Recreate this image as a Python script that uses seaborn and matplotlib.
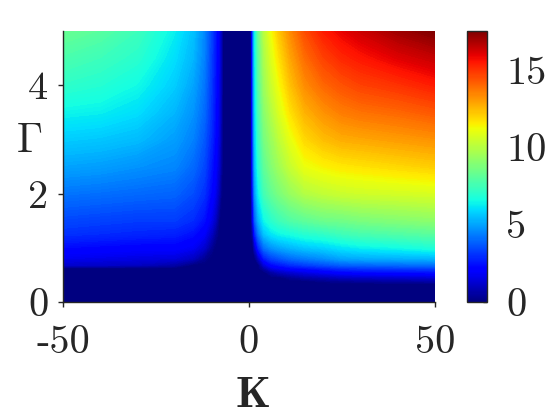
import numpy as np
import pandas as pd
import matplotlib
matplotlib.use("Agg")
import matplotlib.pyplot as plt
import seaborn as sns
from matplotlib.colors import Normalize
from matplotlib.cm import ScalarMappable

K_nodes = [-50, -40, -30, -20, -15, -12, -10, -9, -8, -7.5, -7, 0.5, 1, 1.5,
           2.5, 4, 6, 8, 11, 15, 20, 25, 30, 40, 50]
Gamma_nodes = [0, 0.33, 0.38, 0.45, 0.55, 0.62, 0.68, 0.8, 1.0, 1.25, 1.5,
               2, 2.5, 3, 3.5, 4, 4.5, 5]

# one list per K node, values listed along Gamma_nodes
values_by_K = [
    [0, 0, 0, 0, 0, 0, 1.2, 1.7, 2.3, 3.0, 3.4, 4.2, 5.0, 5.7, 6.4, 7.1, 7.7, 8.3],   # -50
    [0, 0, 0, 0, 0, 0, 1.1, 1.6, 2.2, 2.9, 3.3, 4.1, 4.9, 5.6, 6.3, 6.9, 7.4, 8.0],   # -40
    [0, 0, 0, 0, 0, 0, 1.0, 1.5, 2.1, 2.8, 3.2, 4.0, 4.7, 5.4, 6.0, 6.5, 7.0, 7.4],   # -30
    [0, 0, 0, 0, 0, 0, 0.6, 1.4, 2.1, 2.7, 3.2, 3.9, 4.5, 4.9, 5.3, 5.7, 6.0, 6.3],   # -20
    [0, 0, 0, 0, 0, 0, 0, 1.0, 1.8, 2.4, 2.9, 3.5, 4.0, 4.4, 4.7, 5.0, 5.3, 5.5],     # -15
    [0, 0, 0, 0, 0, 0, 0, 0.3, 1.2, 1.9, 2.4, 3.0, 3.4, 3.7, 4.0, 4.2, 4.4, 4.5],     # -12
    [0, 0, 0, 0, 0, 0, 0, 0, 0.3, 1.0, 1.6, 2.2, 2.5, 2.8, 3.0, 3.1, 3.2, 3.3],       # -10
    [0, 0, 0, 0, 0, 0, 0, 0, 0, 0.4, 1.0, 1.7, 2.0, 2.2, 2.35, 2.45, 2.5, 2.6],       # -9
    [0, 0, 0, 0, 0, 0, 0, 0, 0, 0, 0.1, 0.8, 1.2, 1.4, 1.5, 1.6, 1.65, 1.7],          # -8
    [0, 0, 0, 0, 0, 0, 0, 0, 0, 0, 0, 0.2, 0.5, 0.7, 0.8, 0.9, 0.95, 1.0],            # -7.5
    [0, 0, 0, 0, 0, 0, 0, 0, 0, 0, 0, 0, 0, 0, 0, 0, 0, 0],                           # -7
    [0, 0, 0, 0, 0, 0, 0, 0, 0, 0, 0, 0, 0, 0, 0, 0, 0, 0],                           # 0.5
    [0, 0, 0, 0, 0, 0, 0, 0, 0, 0.6, 1.6, 2.5, 2.9, 3.1, 3.3, 3.4, 3.45, 3.5],        # 1
    [0, 0, 0, 0, 0, 0, 0, 0, 1.0, 2.6, 3.7, 4.7, 5.2, 5.5, 5.7, 5.9, 6.1, 6.2],       # 1.5
    [0, 0, 0, 0, 0, 0, 0, 1.0, 2.8, 4.2, 5.2, 6.3, 6.9, 7.3, 7.6, 7.9, 8.1, 8.3],     # 2.5
    [0, 0, 0, 0, 0, 0.6, 1.3, 2.6, 4.1, 5.5, 6.4, 7.5, 8.1, 8.6, 9.0, 9.4, 9.7, 10.0],  # 4
    [0, 0, 0, 0, 0.6, 1.5, 2.2, 3.3, 4.7, 6.1, 7.0, 8.2, 8.9, 9.4, 9.9, 10.4, 10.8, 11.2],  # 6
    [0, 0, 0, 0, 1.0, 1.8, 2.5, 3.6, 5.0, 6.4, 7.4, 8.7, 9.5, 10.1, 10.7, 11.2, 11.7, 12.2],  # 8
    [0, 0, 0, 0.3, 1.3, 2.2, 2.9, 4.0, 5.3, 6.6, 7.8, 9.3, 10.3, 11.0, 11.7, 12.3, 12.8, 13.3],  # 11
    [0, 0, 0, 0.6, 1.6, 2.4, 3.2, 4.3, 5.6, 6.9, 8.1, 9.9, 11.1, 11.9, 12.6, 13.3, 13.9, 14.5],  # 15
    [0, 0, 0.2, 0.8, 1.9, 2.7, 3.5, 4.6, 5.8, 7.1, 8.4, 10.2, 11.4, 12.4, 13.2, 14.0, 14.7, 15.4],  # 20
    [0, 0, 0.3, 1.0, 2.2, 3.0, 3.8, 5.0, 6.1, 7.4, 8.5, 10.4, 11.6, 12.7, 13.6, 14.4, 15.2, 15.9],  # 25
    [0, 0, 0.4, 1.1, 2.3, 3.1, 3.9, 5.1, 6.3, 7.6, 8.7, 10.5, 11.7, 12.8, 13.8, 14.7, 15.5, 16.3],  # 30
    [0, 0, 0.5, 1.2, 2.4, 3.2, 4.0, 5.2, 6.5, 7.8, 8.9, 10.6, 11.9, 13.0, 14.0, 15.0, 16.0, 17.0],  # 40
    [0, 0, 0.6, 1.3, 2.5, 3.3, 4.1, 5.3, 6.8, 8.0, 9.1, 10.7, 12.1, 13.2, 14.3, 15.4, 16.4, 17.5],  # 50
]

x_ticks = [-50, 0, 50]
x_tick_labels = ["-50", "0", "50"]
y_ticks = [0, 2, 4]
y_tick_labels = ["0", "2", "4"]
cbar_ticks = [0, 5, 10, 15]
cbar_tick_labels = ["0", "5", "10", "15"]
value_min, value_max = 0, 17.5

# ---- style ----
sns.set_theme(style="ticks")
plt.rcParams["mathtext.fontset"] = "cm"
plt.rcParams["axes.formatter.use_mathtext"] = True
plt.rcParams["font.family"] = ["cmr10", "DejaVu Serif"]

field = pd.DataFrame(np.array(values_by_K).T, index=Gamma_nodes, columns=K_nodes)
cmap = matplotlib.colormaps["jet"]

fig = plt.figure(figsize=(5.6, 4.2), dpi=100)
W, H = 560, 420
ax = fig.add_axes([63 / W, 1 - 302 / H, 372 / W, 271 / H])
cax = fig.add_axes([467 / W, 1 - 302 / H, 20 / W, 271 / H])

levels = np.linspace(value_min, value_max + 0.05, 200)
ax.contourf(field.columns.values, field.index.values, field.values,
            levels=levels, cmap=cmap, vmin=value_min, vmax=value_max,
            antialiased=False)

ax.set_xlim(-50, 50)
ax.set_ylim(0, 5)
ax.set_xticks(x_ticks)
ax.set_xticklabels(x_tick_labels)
ax.set_yticks(y_ticks)
ax.set_yticklabels(y_tick_labels)
tick_color = ".15"
ax.tick_params(axis="both", direction="out", length=3.6, width=1.0,
               color=tick_color, labelcolor=tick_color, labelsize=29)
ax.tick_params(axis="y", pad=7)
ax.tick_params(axis="x", pad=13)
sns.despine(ax=ax)
for s in ("left", "bottom"):
    ax.spines[s].set_color(tick_color)
    ax.spines[s].set_linewidth(1.0)

ax.set_ylabel(r"$\Gamma$", rotation=0, fontsize=30, color=tick_color,
              ha="center", va="center")
ax.yaxis.set_label_coords((29 - 63) / 372, (302 - 141) / 271)
ax.set_xlabel(r"$\mathbf{K}$", fontsize=32, color=tick_color,
              ha="center", va="center")
ax.xaxis.set_label_coords((252 - 63) / 372, (302 - 396) / 271)

sm = ScalarMappable(norm=Normalize(value_min, value_max), cmap=cmap)
cb = fig.colorbar(sm, cax=cax)
cb.set_ticks(cbar_ticks)
cb.set_ticklabels(cbar_tick_labels)
cax.tick_params(direction="in", length=3, width=1.0, color=tick_color,
                labelcolor=tick_color, labelsize=29, pad=14)
cb.outline.set_edgecolor(tick_color)
cb.outline.set_linewidth(1.0)

fig.savefig("out.png", dpi=100)
